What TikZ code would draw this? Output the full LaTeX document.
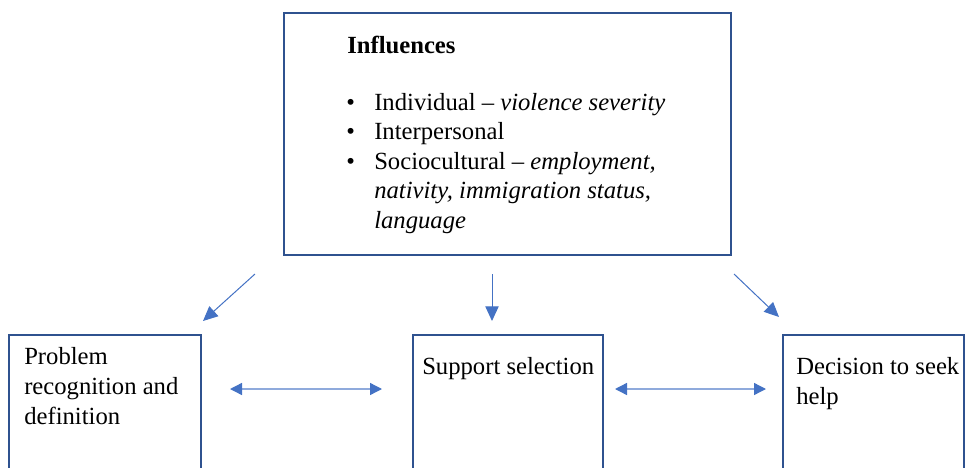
\documentclass[tikz,border=0pt]{standalone}
\usepackage{fontspec}
\setmainfont{Liberation Serif}[ItalicFont={Liberation Serif Italic},BoldFont={Liberation Serif Bold}]
\usetikzlibrary{arrows.meta,positioning}
\definecolor{rahmen}{HTML}{2F528F}
\definecolor{pfeil}{HTML}{4472C4}
\definecolor{pfeilhell}{HTML}{8FAADC}
\begin{document}
\begin{tikzpicture}[x=0.75pt,y=-0.75pt,
	>={Triangle[length=9pt,width=9pt,color=pfeil]},
	kasten/.style={draw=rahmen,line width=1.5pt,inner sep=0pt,anchor=north west},
	txt/.style={anchor=north west,inner sep=0pt,align=left,
		font=\fontsize{18.5}{22.5}\selectfont},
	schraeg/.style={-{Triangle[length=11pt,width=10pt]},color=pfeil,line width=0.75pt},
	quer/.style={<->,color=pfeilhell,line width=1pt}]
\useasboundingbox (0,0) rectangle (965,468);
\clip (0,0) rectangle (965,468);
\def\unten{120pt}
% boxes
\node[kasten,minimum width=335.25pt,minimum height=181.5pt] (einfluss) at (283,12) {};
\node[kasten,minimum width=144pt,minimum height=\unten] (problem) at (8,334) {};
\node[kasten,minimum width=142.5pt,minimum height=\unten] (auswahl) at (412,334) {};
\node[kasten,minimum width=135.75pt,minimum height=\unten] (hilfe) at (782,334) {};
% texts
\node[txt,font=\bfseries\fontsize{18.5}{22.5}\selectfont] (titel) at (347,36) {Influences};
\node[txt,font=\fontsize{18.5}{22.1}\selectfont] (liste) at (346,93) {%
	\makebox[21pt][l]{\textbullet}Individual -- \textit{violence severity}\\
	\makebox[21pt][l]{\textbullet}Interpersonal\\
	\makebox[21pt][l]{\textbullet}Sociocultural -- \textit{employment,}\\
	\hspace*{21pt}\textit{nativity, immigration status,}\\
	\hspace*{21pt}\textit{language}};
\node[txt] (problemtxt) at (24,347) {Problem\\recognition and\\definition};
\node[txt] (auswahltxt) at (422,357) {Support selection};
\node[txt] (hilfetxt) at (796,357) {Decision to seek\\help};
% arrows
\draw[schraeg] ([shift={(-28,18)}]einfluss.south west) -- ([shift={(1,-13)}]problem.north east);
\draw[schraeg] ([shift={(-15.5,18)}]einfluss.south) -- ([shift={(-16,-13)}]auswahl.north);
\draw[schraeg] ([shift={(2,18)}]einfluss.south east) -- ([shift={(-3,-17)}]hilfe.north west);
\draw[quer] ([shift={(28,55)}]problem.north east) -- ([shift={(-30,55)}]auswahl.north west);
\draw[quer] ([shift={(11,55)}]auswahl.north east) -- ([shift={(-16,55)}]hilfe.north west);
\end{tikzpicture}
\end{document}
